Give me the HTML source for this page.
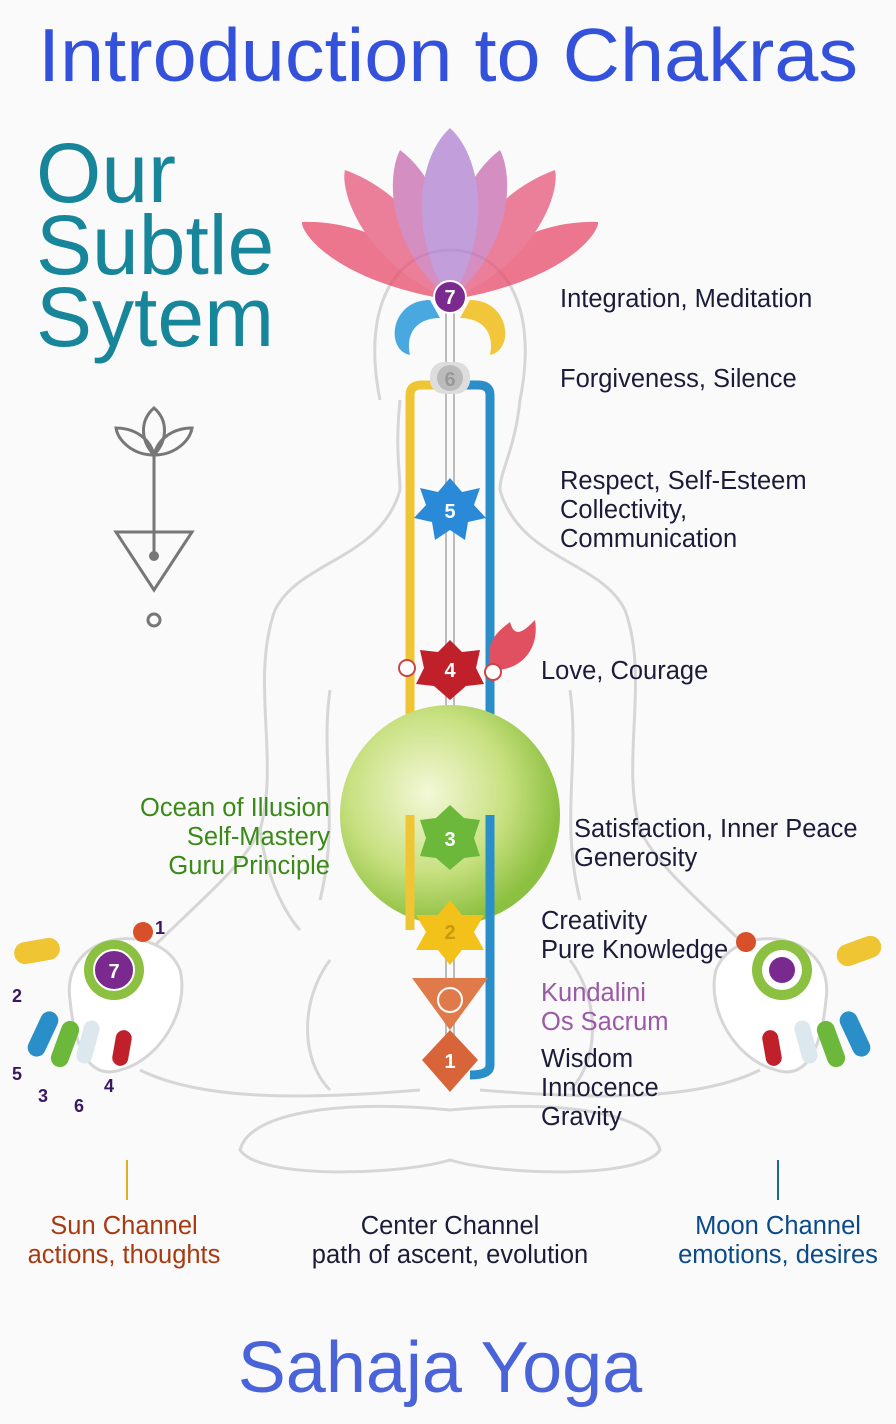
<!DOCTYPE html>
<html><head><meta charset="utf-8"><style>
body{margin:0;background:#fafafa;}
svg{display:block}
text{font-family:"Liberation Sans","DejaVu Sans",sans-serif}
</style></head><body>
<svg width="896" height="1424" viewBox="0 0 896 1424" xmlns="http://www.w3.org/2000/svg">
<rect width="896" height="1424" fill="#fafafa"/>
<text x="448" y="81" font-size="75" fill="#3451dc" text-anchor="middle" textLength="820" lengthAdjust="spacingAndGlyphs">Introduction to Chakras</text>
<text x="440" y="1392" font-size="72" fill="#4a63d8" text-anchor="middle">Sahaja Yoga</text>
<g fill="#17869a" font-size="84">
<text x="36" y="202">Our</text><text x="36" y="274">Subtle</text><text x="36" y="346">Sytem</text></g>
<!-- symbol -->
<g stroke="#777" stroke-width="3" fill="none">
<path d="M154 455 C140 440 140 420 154 408 C168 420 168 440 154 455Z"/>
<path d="M154 455 C132 455 118 440 116 428 C134 428 150 438 154 455Z"/>
<path d="M154 455 C176 455 190 440 192 428 C174 428 158 438 154 455Z"/>
<line x1="154" y1="455" x2="154" y2="556"/>
<path d="M116 532 L192 532 L154 590 Z"/>
<circle cx="154" cy="620" r="6"/></g>
<circle cx="154" cy="556" r="5" fill="#777"/>
<!-- body outline -->
<g stroke="#d6d6d6" stroke-width="3" fill="none">
<path d="M380 400 C360 300 400 250 450 250 C500 250 540 300 520 400 C515 450 500 470 500 490 C520 560 600 560 625 610 C650 680 620 760 640 830 C660 870 700 900 760 960"/>
<path d="M400 400 C395 450 400 470 400 490 C380 560 300 560 275 610 C250 680 280 760 260 830 C240 870 200 900 140 960"/>
<path d="M260 830 C270 900 300 930 300 930"/>
<path d="M140 1070 C200 1100 300 1100 420 1090"/>
<path d="M760 1070 C700 1100 600 1100 480 1090"/>
<path d="M240 1150 C250 1110 350 1100 450 1110 C550 1100 650 1110 660 1150 C640 1180 500 1175 450 1160 C400 1175 260 1180 240 1150Z"/>
<path d="M330 960 C300 1000 300 1060 330 1090"/>
<path d="M570 960 C600 1000 600 1060 570 1090"/>
<path d="M570 690 C580 760 560 820 580 900"/>
<path d="M330 690 C320 760 340 820 320 900"/>
</g>
<!-- lotus -->
<g opacity="0.75">
<path d="M450 300 C330 280 300 230 302 222 C360 220 420 250 450 300Z" fill="#e84a6a"/>
<path d="M450 300 C570 280 600 230 598 222 C540 220 480 250 450 300Z" fill="#e84a6a"/>
<path d="M450 300 C360 260 340 190 345 170 C400 190 440 240 450 300Z" fill="#e7567a"/>
<path d="M450 300 C540 260 560 190 555 170 C500 190 460 240 450 300Z" fill="#e7567a"/>
<path d="M450 300 C390 250 385 180 400 150 C440 180 455 240 450 300Z" fill="#c86ab0"/>
<path d="M450 300 C510 250 515 180 500 150 C460 180 445 240 450 300Z" fill="#c86ab0"/>
<path d="M450 300 C410 240 415 160 450 128 C485 160 490 240 450 300Z" fill="#b080d0"/>
</g>
<path d="M430 300 C390 300 385 350 410 355 C405 330 420 318 440 318Z" fill="#4aa8e0"/>
<path d="M470 300 C510 300 515 350 490 355 C495 330 480 318 460 318Z" fill="#f2c63a"/>
<!-- channels -->
<path d="M410 930 L410 395 Q410 385 422 385 L440 385" stroke="#f0c533" stroke-width="9" fill="none"/>
<path d="M490 1065 L490 395 Q490 385 478 385 L460 385" stroke="#2a8fc8" stroke-width="9" fill="none"/>
<path d="M490 1065 Q490 1075 470 1075" stroke="#2a8fc8" stroke-width="9" fill="none"/>
<line x1="446" y1="300" x2="446" y2="1060" stroke="#bbb" stroke-width="2"/>
<line x1="454" y1="300" x2="454" y2="1060" stroke="#bbb" stroke-width="2"/>
<!-- sphere -->
<defs><radialGradient id="g" cx="0.4" cy="0.4" r="0.6"><stop offset="0" stop-color="#f3f8d8"/><stop offset="0.6" stop-color="#c8e080"/><stop offset="1" stop-color="#8cc040"/></radialGradient></defs>
<circle cx="450" cy="815" r="110" fill="url(#g)"/>
<path d="M410 815 L410 925" stroke="#f0c533" stroke-width="9"/>
<path d="M490 815 L490 1060" stroke="#2a8fc8" stroke-width="9"/>
<!-- chakras -->
<circle cx="450" cy="297" r="16" fill="#7a2a8e" stroke="#fff" stroke-width="2"/>
<rect x="430" y="362" width="40" height="32" rx="14" fill="#ddd"/><circle cx="450" cy="378" r="13" fill="#bbb"/>
<polygon points="450,478 462,492 480,488 474,505 486,518 468,522 465,540 450,530 435,540 432,522 414,518 426,505 420,488 438,492" fill="#2a8ad8"/>
<polygon points="450,640 462,652 480,650 476,668 484,684 466,686 450,700 434,686 416,684 424,668 420,650 438,652" fill="#c0202a"/>
<path d="M490 665 C485 640 500 630 510 622 C515 640 525 630 535 620 C540 650 520 670 495 670Z" fill="#e05060"/>
<circle cx="407" cy="668" r="8" fill="#fff" stroke="#c44" stroke-width="2"/>
<circle cx="493" cy="672" r="8" fill="#fff" stroke="#c44" stroke-width="2"/>
<polygon points="450,805 464,818 480,820 474,838 480,856 464,858 450,870 436,858 420,856 426,838 420,820 436,818" fill="#6cb83a"/>
<polygon points="450,900 462,915 484,915 474,932 484,950 462,950 450,965 438,950 416,950 426,932 416,915 438,915" fill="#f2c21a"/>
<path d="M412 978 L488 978 L450 1030Z" fill="#e07a4a"/>
<circle cx="450" cy="1000" r="12" fill="none" stroke="#fff" stroke-width="2"/>
<path d="M450 1030 L478 1060 L450 1092 L422 1060Z" fill="#d8643a"/>
<g fill="#fff" font-size="20" font-weight="bold" text-anchor="middle">
<text x="450" y="304">7</text><text x="450" y="386" fill="#999">6</text><text x="450" y="518">5</text><text x="450" y="677">4</text><text x="450" y="846">3</text><text x="450" y="939" fill="#c89a10">2</text><text x="450" y="1068">1</text></g>
<!-- right labels -->
<g font-size="25.5" fill="#1c1c3a">
<text x="560" y="307">Integration, Meditation</text>
<text x="560" y="387">Forgiveness, Silence</text>
<text x="560" y="489">Respect, Self-Esteem</text>
<text x="560" y="518">Collectivity,</text>
<text x="560" y="547">Communication</text>
<text x="541" y="679">Love, Courage</text>
<text x="574" y="837">Satisfaction, Inner Peace</text>
<text x="574" y="866">Generosity</text>
<text x="541" y="929">Creativity</text>
<text x="541" y="958">Pure Knowledge</text>
<text x="541" y="1067">Wisdom</text>
<text x="541" y="1096">Innocence</text>
<text x="541" y="1125">Gravity</text></g>
<g font-size="25.5" fill="#9a5aa8"><text x="541" y="1001">Kundalini</text><text x="541" y="1030">Os Sacrum</text></g>
<g font-size="25.5" fill="#3a8a18" text-anchor="end"><text x="330" y="816">Ocean of Illusion</text><text x="330" y="845">Self-Mastery</text><text x="330" y="874">Guru Principle</text></g>
<!-- left hand -->
<g stroke="#d6d6d6" stroke-width="3" fill="#fff">
<path d="M70 1000 C60 930 160 920 180 970 C190 1010 160 1060 120 1070 C90 1080 75 1050 70 1000Z"/></g>
<rect x="14" y="940" width="46" height="22" rx="11" fill="#f0c533" transform="rotate(-10 37 951)"/>
<rect x="34" y="1010" width="18" height="48" rx="9" fill="#2a8fc8" transform="rotate(25 43 1034)"/>
<rect x="56" y="1020" width="18" height="48" rx="9" fill="#6cb83a" transform="rotate(20 65 1044)"/>
<rect x="80" y="1020" width="16" height="44" rx="8" fill="#dde8ee" transform="rotate(15 88 1042)"/>
<rect x="114" y="1030" width="16" height="36" rx="8" fill="#c0202a" transform="rotate(10 122 1048)"/>
<circle cx="114" cy="970" r="30" fill="#8cc040"/><circle cx="114" cy="970" r="20" fill="#7a2a8e" stroke="#fff" stroke-width="2"/>
<text x="114" y="978" fill="#fff" font-size="20" font-weight="bold" text-anchor="middle">7</text>
<circle cx="143" cy="932" r="10" fill="#d8502a"/>
<g fill="#3a1860" font-size="18" font-weight="bold"><text x="155" y="934">1</text><text x="12" y="1002">2</text><text x="12" y="1080">5</text><text x="38" y="1102">3</text><text x="74" y="1112">6</text><text x="104" y="1092">4</text></g>
<!-- right hand -->
<g stroke="#d6d6d6" stroke-width="3" fill="#fff">
<path d="M826 1000 C836 930 736 920 716 970 C706 1010 736 1060 776 1070 C806 1080 821 1050 826 1000Z"/></g>
<rect x="836" y="940" width="46" height="22" rx="11" fill="#f0c533" transform="rotate(-20 859 951)"/>
<rect x="846" y="1010" width="18" height="48" rx="9" fill="#2a8fc8" transform="rotate(-25 855 1034)"/>
<rect x="822" y="1020" width="18" height="48" rx="9" fill="#6cb83a" transform="rotate(-20 831 1044)"/>
<rect x="798" y="1020" width="16" height="44" rx="8" fill="#dde8ee" transform="rotate(-15 806 1042)"/>
<rect x="764" y="1030" width="16" height="36" rx="8" fill="#c0202a" transform="rotate(-10 772 1048)"/>
<circle cx="782" cy="970" r="30" fill="#8cc040"/><circle cx="782" cy="970" r="20" fill="#fff"/><circle cx="782" cy="970" r="13" fill="#7a2a8e"/>
<circle cx="746" cy="942" r="10" fill="#d8502a"/>
<!-- bottom -->
<line x1="127" y1="1160" x2="127" y2="1200" stroke="#e0b020" stroke-width="2"/>
<line x1="778" y1="1160" x2="778" y2="1200" stroke="#1a6a8a" stroke-width="2"/>
<g font-size="25.5" text-anchor="middle">
<text x="124" y="1234" fill="#a83a10">Sun Channel</text><text x="124" y="1263" fill="#a83a10">actions, thoughts</text>
<text x="450" y="1234" fill="#1c1c3a">Center Channel</text><text x="450" y="1263" fill="#1c1c3a">path of ascent, evolution</text>
<text x="778" y="1234" fill="#0a4a8a">Moon Channel</text><text x="778" y="1263" fill="#0a4a8a">emotions, desires</text></g>
</svg>
</body></html>
